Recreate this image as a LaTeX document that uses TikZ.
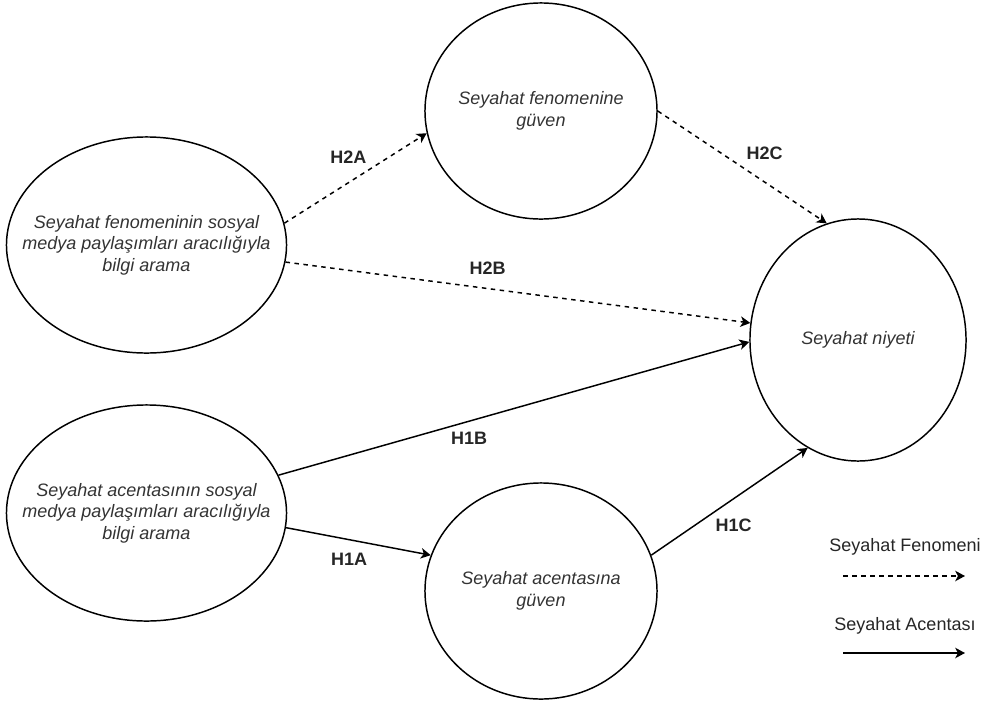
\documentclass[tikz,border=0pt]{standalone}
\usepackage{fontspec}
\setmainfont{Liberation Sans}
\usetikzlibrary{shapes.geometric, arrows.meta, positioning}
\tikzstyle{construct} = [ellipse, draw=black, line width=1.05pt, inner sep=0pt,
                         minimum width=7cm, minimum height=5.4cm]
\tikzstyle{ctext}     = [text=black!80, align=center, inner sep=0pt,
                         font=\itshape\fontsize{12.8}{15.4}\selectfont]
\tikzstyle{hyp}       = [text=black!85, inner sep=0pt,
                         font=\bfseries\fontsize{12.8}{15.4}\selectfont]
\tikzstyle{legtext}   = [text=black!85, inner sep=0pt,
                         font=\fontsize{12.8}{15.4}\selectfont]
\tikzstyle{arrow}     = [line width=1.05pt, -{Stealth[length=7pt, width=7.5pt, inset=2pt]}]
\tikzstyle{dasharrow} = [arrow, dash pattern=on 3.2pt off 3.2pt]

\begin{document}
\begin{tikzpicture}[x=0.025cm, y=-0.025cm]
  \useasboundingbox (0,0) rectangle (994,705);

  % Constructs
  \node (fsearch) [construct] at (146.5,245) {};
  \node (asearch) [construct] at (146.5,513) {};
  \node (ftrust)  [construct, minimum width=5.8cm] at (541,111) {};
  \node (atrust)  [construct, minimum width=5.8cm] at (541,591) {};
  \node (intent)  [construct, minimum width=5.4cm, minimum height=6.05cm] at (858,340) {};

  % Construct texts
  \node (fsearchtxt) [ctext] at (fsearch.center) {Seyahat fenomeninin sosyal\\medya paylaşımları aracılığıyla\\bilgi arama};
  \node (asearchtxt) [ctext] at (asearch.center) {Seyahat acentasının sosyal\\medya paylaşımları aracılığıyla\\bilgi arama};
  \node (ftrusttxt)  [ctext] at (ftrust.center)  {Seyahat fenomenine\\güven};
  \node (atrusttxt)  [ctext] at (atrust.center)  {Seyahat acentasına\\güven};
  \node (intenttxt)  [ctext] at (intent.center)  {Seyahat niyeti};

  % H2A
  \draw[dasharrow] (fsearch.9) -- node[hyp, pos=0.45, above=13pt]{H2A} (ftrust.191);
  % H2B
  \draw[dasharrow] (fsearch.-7) -- node[hyp, pos=0.435, above=9.5pt]{H2B} (intent.171);
  % H2C
  \draw[dasharrow] (ftrust.0) -- node[hyp, pos=0.633, above=15.5pt]{H2C} (intent.105);
  % H1A
  \draw[arrow] (asearch.-6.5) -- node[hyp, pos=0.436, below=9pt]{H1A} (atrust.162.5);
  % H1B
  \draw[arrow] (asearch.16) -- node[hyp, pos=0.405, below=7pt]{H1B} (intent.181);
  % H1C
  \draw[arrow] (atrust.18) -- node[hyp, pos=0.527, below=14pt]{H1C} (intent.245);

  % Legend
  \node (fenleg) [legtext] at (905,547) {Seyahat Fenomeni};
  \node (acleg)  [legtext] at (905,626) {Seyahat Acentası};
  \coordinate (fenA) at (843,576);
  \coordinate (fenB) at (965,576);
  \coordinate (acA)  at (843,653);
  \coordinate (acB)  at (965,653);
  \draw[dasharrow] (fenA) -- (fenB);
  \draw[arrow] (acA) -- (acB);

\end{tikzpicture}
\end{document}
